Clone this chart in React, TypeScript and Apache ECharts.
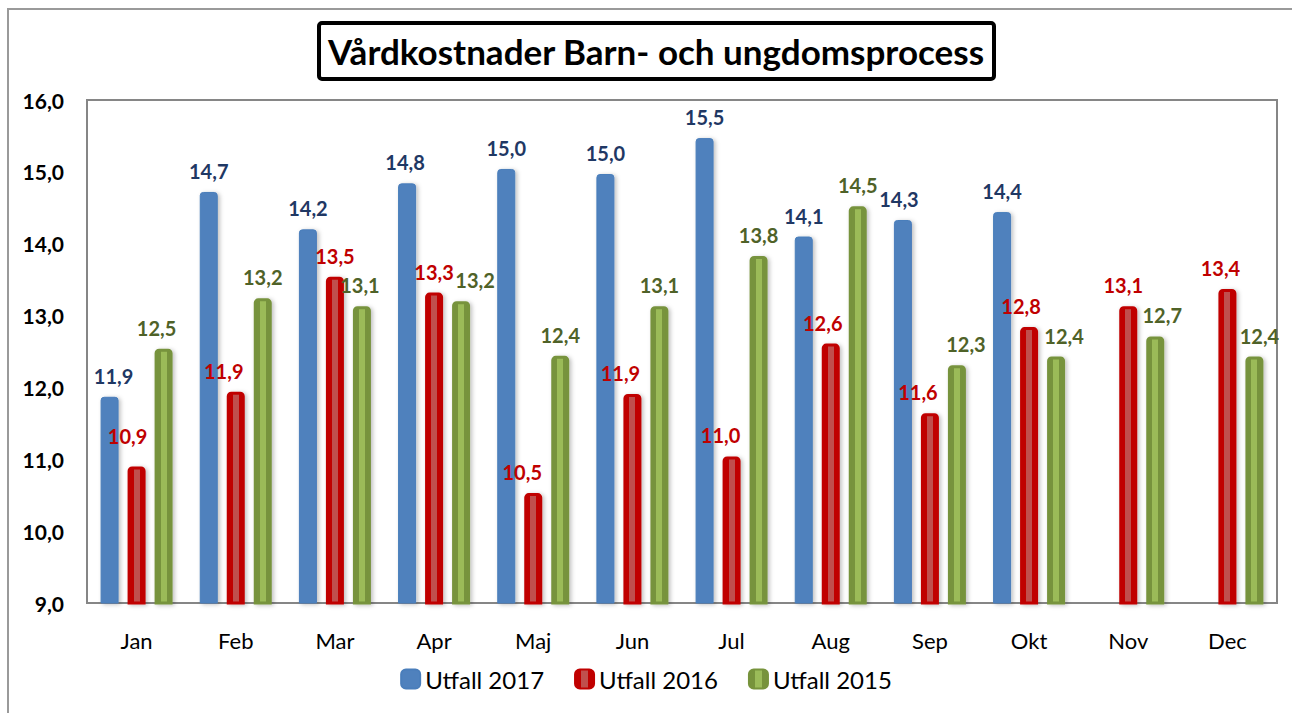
import React, { useEffect, useRef } from "react";
import * as echarts from "echarts";

const months = ["Jan", "Feb", "Mar", "Apr", "Maj", "Jun", "Jul", "Aug", "Sep", "Okt", "Nov", "Dec"];
const utfall2017: (number | null)[] = [11.87, 14.72, 14.2, 14.84, 15.04, 14.97, 15.47, 14.1, 14.33, 14.44, null, null];
const utfall2016: (number | null)[] = [10.9, 11.94, 13.54, 13.32, 10.53, 11.91, 11.04, 12.61, 11.64, 12.84, 13.13, 13.37];
const utfall2015: (number | null)[] = [12.54, 13.24, 13.13, 13.2, 12.44, 13.13, 13.83, 14.52, 12.31, 12.43, 12.71, 12.43];
const seriesNames = ["Utfall 2017", "Utfall 2016", "Utfall 2015"];
const yTicks = { min: 9, max: 16, interval: 1 };
const titleText = "Vårdkostnader Barn- och ungdomsprocess";

// horizontal nudges of the data labels (px), as placed in the reference
const labelShift2017 = [4, 0, 0, -2, 0, 0, 0, 0, -4, 0, 0, 0];
const labelShift2016 = [-9, -12, 0, 0, -11, -12, -11, -8, -12, -8, -5, -7];
const labelShift2015 = [-7, 0, -2, 14, 0, 0, 0, 0, 9, 8, 7, 5];
const labelLift2016 = [9, 0, 0, 0, 0, 0, 0, 0, 0, 0, 0, 0];

const FONT = "Lato, 'Open Sans', sans-serif";

const fmt = (v: number) => v.toFixed(1).replace(".", ",");

function stripe(dark: string, light: string) {
  return new echarts.graphic.LinearGradient(1, 0, 0, 0, [
    { offset: 0, color: dark },
    { offset: 0.3, color: dark },
    { offset: 0.3, color: light },
    { offset: 0.7, color: light },
    { offset: 0.7, color: dark },
    { offset: 1, color: dark },
  ]);
}

function withShift(values: (number | null)[], shift: number[], lift?: number[]) {
  return values.map((v, i) => ({
    value: v,
    label: { offset: [shift[i] || 0, -((lift && lift[i]) || 0)] },
  }));
}

export default function App() {
  const ref = useRef<HTMLDivElement>(null);
  useEffect(() => {
    if (!ref.current) return;
    const chart = echarts.init(ref.current, undefined, { renderer: "svg" });
    const labelBase = {
      show: true,
      position: "top" as const,
      distance: 11,
      fontFamily: FONT,
      fontWeight: "bold" as const,
      fontSize: 20,
      formatter: (p: any) => (p.value == null ? "" : fmt(p.value)),
    };
    const shadow = { shadowBlur: 4, shadowColor: "rgba(0,0,0,0.25)", shadowOffsetX: 2, shadowOffsetY: 1 };
    chart.setOption({
      animation: false,
      backgroundColor: "#ffffff",
      graphic: [
        {
          type: "rect",
          shape: { x: 8, y: 9, width: 1320, height: 740 },
          style: { fill: "none", stroke: "#9a9a9a", lineWidth: 2 },
          silent: true,
          z: -10,
        },
        {
          type: "rect",
          shape: { x: 319, y: 23, width: 675, height: 56, r: 3 },
          style: { fill: "#ffffff", stroke: "#000000", lineWidth: 4 },
          z: 10,
        },
        {
          type: "text",
          x: 656,
          y: 51,
          style: {
            text: titleText,
            font: `bold 35px ${FONT}`,
            fill: "#000000",
            textAlign: "center",
            textVerticalAlign: "middle",
          },
          z: 11,
        },
      ],
      grid: {
        left: 87,
        right: 15,
        top: 100,
        bottom: 110,
        show: true,
        borderColor: "#868686",
        borderWidth: 2,
        backgroundColor: "transparent",
      },
      legend: {
        bottom: 17,
        left: "center",
        itemWidth: 19,
        itemHeight: 19,
        itemGap: 30,
        icon: "roundRect",
        textStyle: { fontFamily: FONT, fontSize: 24, color: "#000" },
        data: seriesNames,
      },
      xAxis: {
        type: "category",
        data: months,
        axisLine: { show: false },
        axisTick: { show: false },
        axisLabel: { fontFamily: FONT, fontSize: 22, color: "#000", margin: 26 },
      },
      yAxis: {
        type: "value",
        min: yTicks.min,
        max: yTicks.max,
        interval: yTicks.interval,
        axisLine: { show: false },
        axisTick: { show: false },
        splitLine: { show: false },
        axisLabel: {
          fontFamily: FONT,
          fontSize: 21,
          fontWeight: "bold",
          color: "#000",
          margin: 23,
          formatter: (v: number) => fmt(v),
        },
      },
      series: [
        {
          name: seriesNames[0],
          type: "bar",
          data: withShift(utfall2017, labelShift2017),
          barWidth: 18,
          barGap: "50%",
          itemStyle: { color: "#4F81BD", borderColor: "#4A7EBB", borderWidth: 1, borderRadius: [3, 3, 0, 0], ...shadow },
          label: { ...labelBase, color: "#1F3864" },
        },
        {
          name: seriesNames[1],
          type: "bar",
          data: withShift(utfall2016, labelShift2016, labelLift2016),
          barWidth: 18,
          barGap: "50%",
          itemStyle: { color: stripe("#C00000", "#C0504D"), borderColor: "#C00000", borderWidth: 3, borderRadius: [3, 3, 0, 0], ...shadow },
          label: { ...labelBase, color: "#C00000" },
        },
        {
          name: seriesNames[2],
          type: "bar",
          data: withShift(utfall2015, labelShift2015),
          barWidth: 18,
          barGap: "50%",
          itemStyle: { color: stripe("#77933C", "#9BBB59"), borderColor: "#77933C", borderWidth: 3, borderRadius: [3, 3, 0, 0], ...shadow },
          label: { ...labelBase, color: "#4F6228" },
        },
      ],
    });
    return () => chart.dispose();
  }, []);
  return (
    <div
      ref={ref}
      style={{ position: "absolute", left: 0, top: 0, width: 1292, height: 713 }}
    />
  );
}
